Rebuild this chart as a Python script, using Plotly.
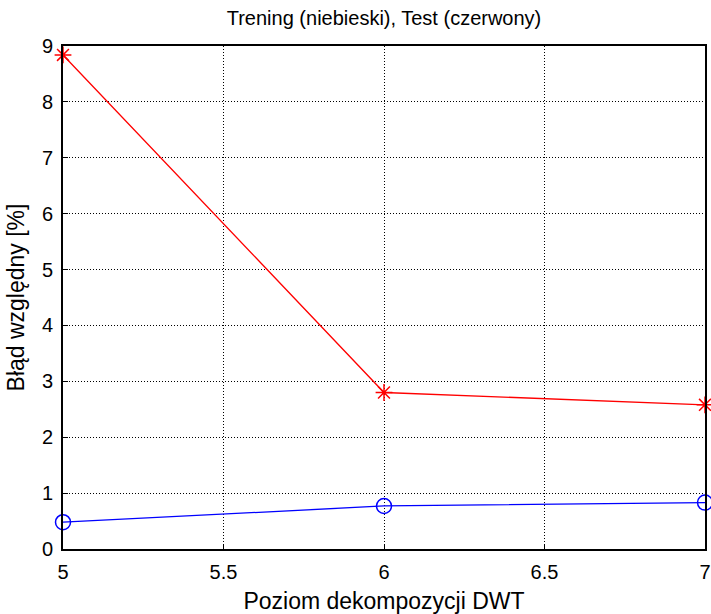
import plotly.graph_objects as go

levels = [5, 6, 7]
train_err = [0.48, 0.77, 0.83]
test_err = [8.84, 2.80, 2.58]
x_ticks = [5, 5.5, 6, 6.5, 7]
y_ticks = list(range(0, 10))

fig = go.Figure()
fig.add_trace(go.Scatter(x=levels, y=train_err, mode="lines+markers",
                         line=dict(color="#0000ff", width=1.3),
                         marker=dict(symbol="circle-open", size=15, color="#0000ff", line=dict(width=1.5)),
                         cliponaxis=False, showlegend=False))
fig.add_trace(go.Scatter(x=levels, y=test_err, mode="lines+markers",
                         line=dict(color="#ff0000", width=1.3),
                         marker=dict(symbol="asterisk-open", size=14, color="#ff0000", line=dict(width=1.5, color="#ff0000")),
                         cliponaxis=False, showlegend=False))

font = "Liberation Sans, Arial, sans-serif"
axis_common = dict(showline=True, linecolor="black", linewidth=2, mirror=True,
                   ticks="inside", ticklen=5, tickcolor="black", tickwidth=1,
                   showgrid=True, gridcolor="black", griddash="1px,2px", gridwidth=1,
                   zeroline=False, automargin=False, ticklabeloverflow="allow",
                   tickfont=dict(family=font, size=20, color="black"))

fig.update_layout(
    width=711, height=614,
    margin=dict(l=63, r=6, t=46, b=65),
    paper_bgcolor="white", plot_bgcolor="white",
    title=dict(text="Trening (niebieski), Test (czerwony)", x=0.5, xref="paper", xanchor="center",
               y=1 - 18 / 614, yanchor="middle", font=dict(family=font, size=20, color="black")),
    xaxis=dict(range=[5, 7], tickvals=x_ticks, ticktext=[str(v) for v in x_ticks],
               ticklabelstandoff=4,
               title=dict(text="Poziom dekompozycji DWT", font=dict(family=font, size=23, color="black"), standoff=11),
               **axis_common),
    yaxis=dict(range=[0, 9], tickvals=y_ticks, ticklabelstandoff=4,
               title=dict(text="Błąd względny [%]", font=dict(family=font, size=23, color="black"), standoff=11),
               **axis_common),
)

fig.write_html("out.html", config={"displayModeBar": False},
               post_script="document.body.style.margin='0';document.body.style.overflow='hidden';")
